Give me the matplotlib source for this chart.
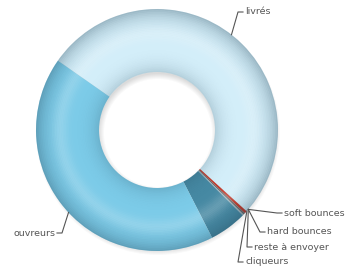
import numpy as np
import matplotlib.pyplot as plt
from matplotlib.patches import Wedge

# slice data (percent of total), clockwise from upper-left
labels = ["livrés", "soft bounces", "hard bounces", "reste à envoyer", "cliqueurs", "ouvreurs"]
values = [52.0, 0.35, 0.25, 0.15, 5.0, 42.25]
colors = ["#d3eef9", "#c0392b", "#6b6b6b", "#9fb7c2", "#4689a3", "#7ccbe8"]

W, H = 346, 267
cx, cy = 157, 267 - 130
r_out, r_in = 121, 58

fig = plt.figure(figsize=(W / 100, H / 100), dpi=100)
ax = fig.add_axes([0, 0, 1, 1])

# soft drop shadow under the ring
for k in range(6):
    ax.add_patch(Wedge((cx + 1, cy - 3), r_out + 1 - k, 0, 360, width=r_out - r_in,
                       facecolor="black", alpha=0.025, lw=0))

wedges, _ = ax.pie(values, colors=colors, startangle=145, counterclock=False,
                   radius=r_out, center=(cx, cy),
                   wedgeprops=dict(width=r_out - r_in, linewidth=0))
ax.set_xlim(0, W)
ax.set_ylim(0, H)
ax.set_aspect("equal")
ax.axis("off")

# 3d-ish shading: darken near the outer and inner edges
n = 40
ring_w = r_out - r_in
for i in range(n):
    tm = (i + 0.5) / n
    d = abs(tm - 0.45) / 0.55
    a = 0.32 * d ** 3
    ax.add_patch(Wedge((cx, cy), r_in + ring_w * (i + 1) / n, 0, 360, width=ring_w / n,
                       facecolor="#1d3d50", alpha=a, lw=0))
# light highlight band
for i in range(n):
    tm = (i + 0.5) / n
    a = 0.18 * np.exp(-((tm - 0.62) / 0.12) ** 2)
    ax.add_patch(Wedge((cx, cy), r_in + ring_w * (i + 1) / n, 0, 360, width=ring_w / n,
                       facecolor="white", alpha=a, lw=0))

# label layout: leader start angle (deg), elbow point and text side (pixel coords, y from top)
lead_angles = [52, -41, -41, -41, -42, -137]
elbows = [(238, 12), (277, 213), (260, 232), (247, 247), (238, 262), (62, 233)]
sides = ["right", "right", "right", "right", "right", "left"]

for lab, a_deg, (ex, ey), side in zip(labels, lead_angles, elbows, sides):
    ang = np.deg2rad(a_deg)
    px = cx + r_out * np.cos(ang)
    py = cy + r_out * np.sin(ang)
    ey = H - ey
    hx = ex + 5 if side == "right" else ex - 5
    ax.plot([px, ex, hx], [py, ey, ey], color="#555555", lw=0.8)
    tx = hx + 2 if side == "right" else hx - 2
    ax.text(tx, ey, lab, fontsize=6.8, color="#555555", va="center",
            ha="left" if side == "right" else "right")

fig.savefig("out.png", dpi=100)
